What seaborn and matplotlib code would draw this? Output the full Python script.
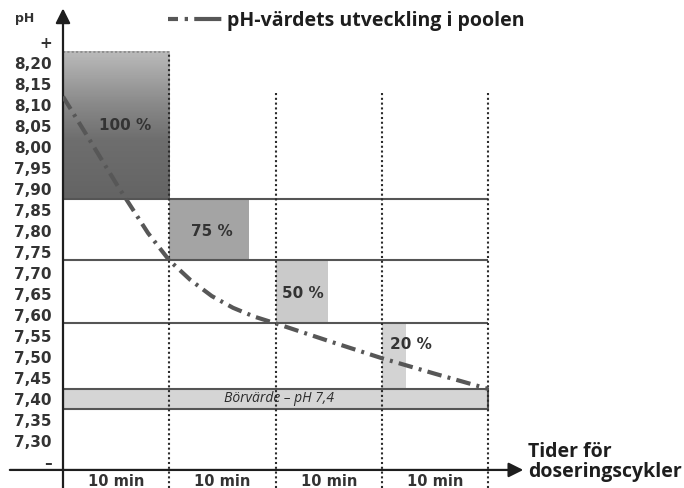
"""
pH-värdets utveckling i poolen: dosing cycles bringing pH down to the set point.
"""
import numpy as np
import matplotlib.pyplot as plt
from matplotlib.lines import Line2D
from matplotlib.colors import LinearSegmentedColormap
import seaborn as sns

# dosing steps: each 10 min cycle doses a share of the full amount
step_start = [0, 1, 2, 3]
dose_pct = ["100 %", "75 %", "50 %", "20 %"]
dose_width = [1.0, 0.75, 0.49, 0.23]
band_low = [7.875, 7.73, 7.58, 7.425]
band_high = [8.226, 7.875, 7.73, 7.58]
bar_colors = ["#6c6c6c", "#a4a4a4", "#cacaca", "#d3d3d3"]

# pH in the pool (x in 10-min cycles)
curve_t = [0, 0.25, 0.52, 0.66, 0.8, 1.0, 1.2, 1.4, 1.6, 1.8, 2.0, 2.5, 3.0, 3.5, 4.0]
curve_ph = [8.12, 8.017, 7.905, 7.85, 7.795, 7.73, 7.683, 7.645, 7.617, 7.596, 7.58,
            7.538, 7.497, 7.46, 7.424]

# y-axis ticks
tick_vals = [8.25, 8.20, 8.15, 8.10, 8.05, 8.00, 7.95, 7.90, 7.85, 7.80, 7.75, 7.70,
             7.65, 7.60, 7.55, 7.50, 7.45, 7.40, 7.35, 7.30, 7.25]
tick_text = ["+", "8,20", "8,15", "8,10", "8,05", "8,00", "7,95", "7,90", "7,85", "7,80",
             "7,75", "7,70", "7,65", "7,60", "7,55", "7,50", "7,45", "7,40", "7,35",
             "7,30", "–"]

cycle_labels = ["10 min", "10 min", "10 min", "10 min"]
setpoint = 7.40

sns.set_theme(style="white")
plt.rcParams["font.family"] = ["DejaVu Sans"]

DARK = "#2b2b2b"
LINE = "#555555"
SANS = ["Open Sans", "DejaVu Sans"]

fig = plt.figure(figsize=(6.84, 4.88), dpi=100)
ax = fig.add_axes([63 / 684, 0, 1 - 63 / 684, 1])
ax.set_xlim(0, (684 - 63) / 106.3)
ax.set_ylim(7.188, 8.35)
for s in ax.spines.values():
    s.set_visible(False)

# dosing bars
ax.bar(step_start, [h - l for h, l in zip(band_high, band_low)], width=dose_width,
       bottom=band_low, align="edge", color=bar_colors, linewidth=0, zorder=1)

# gradient on the first (100 %) bar
grad_cmap = LinearSegmentedColormap.from_list(
    "g", [(0, "#bababa"), (0.35, "#8a8a8a"), (0.6, "#6e6e6e"), (1, "#646464")])
grad = np.linspace(0, 1, 100).reshape(-1, 1)
ax.imshow(grad, extent=[step_start[0], step_start[0] + dose_width[0], band_low[0], band_high[0]],
          origin="upper", aspect="auto", cmap=grad_cmap, zorder=1.5)
ax.plot([0, 1], [band_high[0]] * 2, color="#8c8c8c", lw=1.3, ls=(0, (1.2, 1.2)), zorder=2)

# set-point band
ax.barh(setpoint, 4, height=0.048, left=0, color="#d5d5d5", edgecolor=LINE,
        linewidth=1.5, zorder=2)
ax.text(2.03, setpoint, "Börvärde – pH 7,4", ha="center", va="center", fontsize=10,
        style="italic", family=SANS, color=DARK, zorder=5)

# horizontal step lines
ax.hlines(band_low[:3], 0, 4, color=LINE, lw=1.5, zorder=2)

# dotted cycle separators
ax.vlines(1, 7.188, band_high[0], color=DARK, lw=1.5, ls=(0, (1, 1.3)), zorder=3)
ax.vlines([2, 3, 4], 7.188, 8.13, color=DARK, lw=1.5, ls=(0, (1, 1.3)), zorder=3)

# percentage labels
label_x = [0.583, 1.40, 2.26, 3.27]
label_y = [8.052, 7.798, 7.65, 7.529]
for x, y, t in zip(label_x, label_y, dose_pct):
    ax.text(x, y, t, ha="center", va="center", fontsize=11, fontweight="bold",
            color="#333333", zorder=5)

# pH curve
dash = (0, (3.5, 1.5, 0.7, 1.5))
sns.lineplot(x=curve_t, y=curve_ph, ax=ax, color="#575757", lw=3, zorder=4, sort=False)
ax.lines[-1].set_linestyle(dash)

# axes as arrows
ax.annotate("", xy=(0, 8.33), xytext=(0, 7.188), annotation_clip=False,
            arrowprops=dict(arrowstyle="-|>", mutation_scale=22, lw=1.6, color="#1e1e1e",
                            shrinkA=0, shrinkB=0))
ax.annotate("", xy=(4.33, 7.231), xytext=(-0.5, 7.231), annotation_clip=False,
            arrowprops=dict(arrowstyle="-|>", mutation_scale=22, lw=1.6, color="#1e1e1e",
                            shrinkA=0, shrinkB=0))

# y ticks
ax.set_yticks(tick_vals, tick_text)
ax.tick_params(axis="y", length=0, pad=8, labelsize=11, labelcolor="#333333")
for lab in ax.get_yticklabels():
    lab.set_fontweight("bold")
ax.set_xticks([])

ax.text(-0.36, 8.307, "pH", ha="center", va="center", fontsize=9, fontweight="bold",
        color="#333333", clip_on=False)

# cycle labels under the x-axis
for i, t in enumerate(cycle_labels):
    ax.text(step_start[i] + 0.5, 7.203, t, ha="center", va="center", fontsize=10.5,
            fontweight="bold", color="#333333")

ax.text(4.374, 7.25, "Tider för\ndoseringscykler", ha="left", va="center", fontsize=14,
        fontweight="bold", family=SANS, color="#1e1e1e", linespacing=0.95)

# legend at the top
handle = Line2D([], [], color="#575757", lw=3,
                linestyle=(0, (2.4, 1.6, 0.8, 1.5, 6.5, 2)))
leg = ax.legend([handle], ["pH-värdets utveckling i poolen"], loc="center left",
                bbox_to_anchor=(168 / 684, 1 - 21 / 488), bbox_transform=fig.transFigure,
                frameon=False, borderpad=0, borderaxespad=0, handlelength=2.85,
                handletextpad=0.2,
                prop={"family": SANS, "weight": "bold", "size": 14})
for t in leg.get_texts():
    t.set_color("#1e1e1e")

fig.savefig("out.png", dpi=100)
